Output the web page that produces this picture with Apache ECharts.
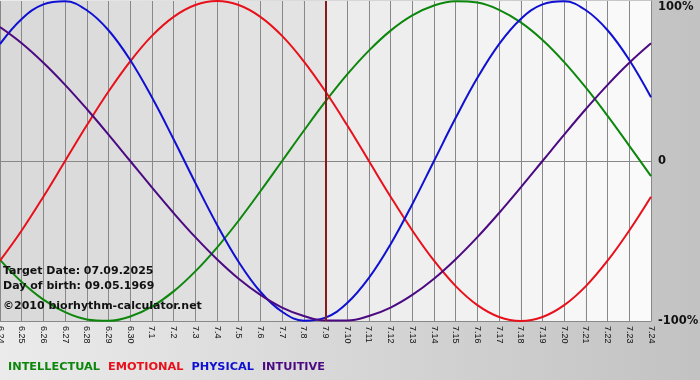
<!DOCTYPE html>
<html>
<head>
<meta charset="utf-8">
<script src="https://cdn.jsdelivr.net/npm/echarts@6/dist/echarts.min.js"></script>
<style>html,body{margin:0;padding:0;}#c{width:700px;height:380px;}</style>
</head>
<body>
<div id="c"></div>
<script>
var days = ['6.24','6.25','6.26','6.27','6.28','6.29','6.30','7.1','7.2','7.3','7.4','7.5','7.6','7.7','7.8','7.9','7.10','7.11','7.12','7.13','7.14','7.15','7.16','7.17','7.18','7.19','7.20','7.21','7.22','7.23','7.24'];
var intellectual = [-61.8,-75.6,-86.6,-94.5,-99.0,-99.9,-97.2,-91.0,-81.5,-69.0,-54.1,-37.2,-18.9,0,18.9,37.2,54.1,69.0,81.5,91.0,97.2,99.9,99.0,94.5,86.6,75.6,61.8,45.8,28.2,9.5,-9.5];
var emotional = [-62.3,-43.4,-22.3,0,22.3,43.4,62.3,78.2,90.1,97.5,100,97.5,90.1,78.2,62.3,43.4,22.3,0,-22.3,-43.4,-62.3,-78.2,-90.1,-97.5,-100,-97.5,-90.1,-78.2,-62.3,-43.4,-22.3];
var physical = [73.1,88.8,97.9,99.8,94.2,81.7,63.1,39.8,13.6,-13.6,-39.8,-63.1,-81.7,-94.2,-99.8,-97.9,-88.8,-73.1,-52.0,-27.0,0,27.0,52.0,73.1,88.8,97.9,99.8,94.2,81.7,63.1,39.8];
var intuitive = [83.7,73.6,61.4,47.6,32.5,16.5,0,-16.5,-32.5,-47.6,-61.4,-73.6,-83.7,-91.6,-96.9,-99.7,-99.7,-96.9,-91.6,-83.7,-73.6,-61.4,-47.6,-32.5,-16.5,0,16.5,32.5,47.6,61.4,73.6];
var targetDay = '7.9';
var yTicks = [-100, 0, 100];
var infoLines = ['Target Date: 07.09.2025', 'Day of birth: 09.05.1969', '\u00a92010 biorhythm-calculator.net'];

var colors = { INTELLECTUAL:'#0c870c', EMOTIONAL:'#e8101a', PHYSICAL:'#1010d2', INTUITIVE:'#4b0a82' };

// background bands (styling): darker before target day, lighter after
var bands = [];
var tIdx = days.indexOf(targetDay);
for (var i = 0; i < days.length - 1; i++) {
  var g;
  if (i < tIdx) g = Math.round(217 + (228 - 217) * i / (tIdx - 1));
  else g = Math.round(235 + (250 - 235) * (i - tIdx) / (days.length - 2 - tIdx));
  bands.push('rgb(' + g + ',' + g + ',' + g + ')');
}

function mk(name, data, extra) {
  var s = {
    name: name, type: 'line', data: data, smooth: 0.4, symbol: 'none',
    lineStyle: { color: colors[name], width: 2 }, itemStyle: { color: colors[name] }
  };
  if (extra) for (var k in extra) s[k] = extra[k];
  return s;
}

var chart = echarts.init(document.getElementById('c'), null, { renderer: 'canvas' });
chart.setOption({
  animation: false,
  backgroundColor: { type: 'linear', x: 0, y: 0, x2: 1, y2: 0,
    colorStops: [{ offset: 0, color: '#ebebeb' }, { offset: 1, color: '#c2c2c2' }] },
  grid: { left: 0, top: 1, width: 651, height: 320, show: false,
    containLabel: false, outerBoundsMode: 'none' },
  legend: {
    left: -2, top: 355, icon: 'none', itemWidth: 0, itemGap: 3,
    selectedMode: false,
    textStyle: { fontFamily: 'DejaVu Sans', fontWeight: 'bold', fontSize: 11.3 },
    data: ['INTELLECTUAL', 'EMOTIONAL', 'PHYSICAL', 'INTUITIVE'].map(function (n) {
      return { name: n, textStyle: { color: colors[n] } };
    })
  },
  xAxis: {
    type: 'category', data: days, boundaryGap: false,
    axisLine: { lineStyle: { color: '#888888', width: 1 } },
    axisTick: { show: true, length: 3, interval: 0, lineStyle: { color: '#888888' } },
    axisLabel: { interval: 0, rotate: -90, margin: 5, color: '#111111',
      fontFamily: 'Liberation Sans', fontSize: 9 },
    splitLine: { show: true, interval: 0, lineStyle: { color: '#888888', width: 1 } },
    splitArea: { show: true, interval: 0, areaStyle: { color: bands } }
  },
  yAxis: {
    type: 'value', position: 'right', min: yTicks[0], max: yTicks[2], interval: 100,
    axisLine: { show: true, lineStyle: { color: '#888888' } },
    axisTick: { show: false },
    axisLabel: { margin: 7, color: '#111111', fontFamily: 'DejaVu Sans', fontWeight: 'bold',
      fontSize: 11.5, verticalAlignMaxLabel: 'top',
      formatter: function (v) { return v === 0 ? '0' : v + '%'; } },
    splitLine: { show: true, lineStyle: { color: '#888888', width: 1 } }
  },
  graphic: infoLines.map(function (t, k) {
    return { type: 'text', left: 3, top: [266, 281, 301][k], z: 100,
      style: { text: t, fill: '#111111', font: 'bold 11px "DejaVu Sans"' } };
  }),
  series: [
    mk('INTELLECTUAL', intellectual),
    mk('EMOTIONAL', emotional),
    mk('PHYSICAL', physical),
    mk('INTUITIVE', intuitive, {
      markLine: { silent: true, symbol: 'none', label: { show: false },
        lineStyle: { color: '#8a1a1a', width: 2, type: 'solid' },
        data: [{ xAxis: targetDay }] }
    })
  ]
});
</script>
</body>
</html>
